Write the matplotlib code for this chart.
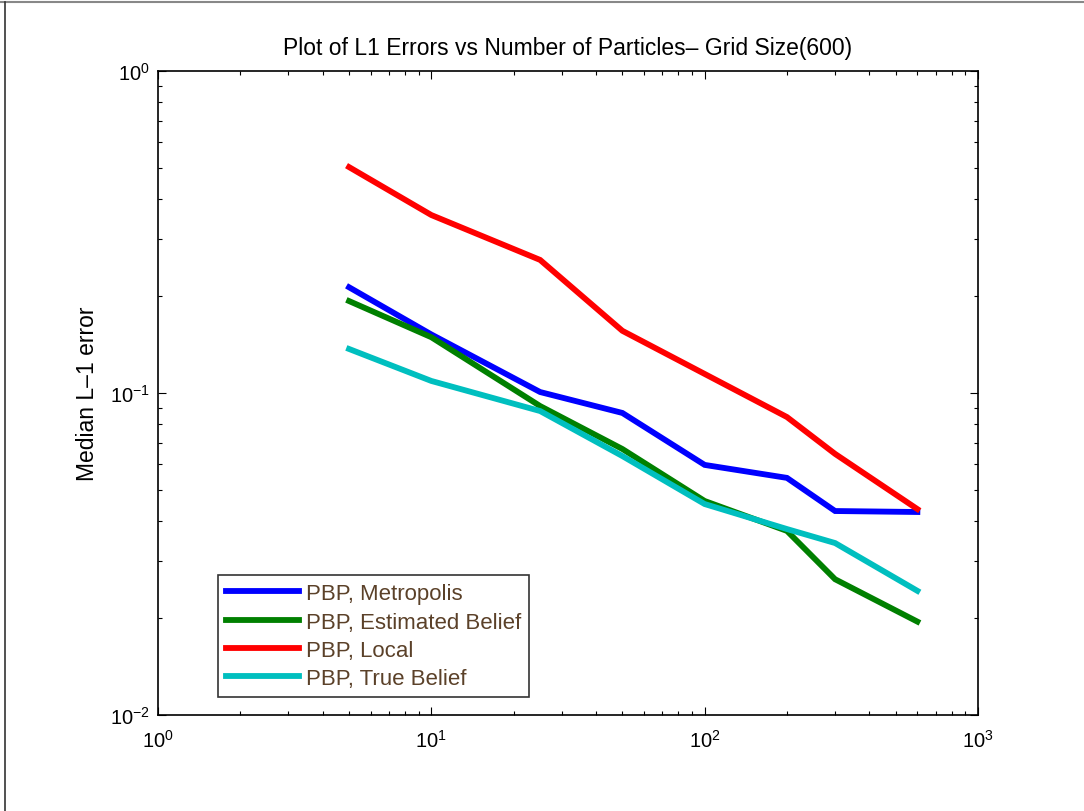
import matplotlib
matplotlib.use("Agg")
import matplotlib.pyplot as plt
from matplotlib.lines import Line2D
from matplotlib.ticker import LogLocator, NullFormatter

plt.rcParams["font.family"] = ["Liberation Sans", "DejaVu Sans"]
plt.rcParams["mathtext.fontset"] = "custom"
plt.rcParams["mathtext.rm"] = "Liberation Sans"
plt.rcParams["mathtext.it"] = "Liberation Sans"
plt.rcParams["mathtext.bf"] = "Liberation Sans"

# Number of particles
particles = [5, 10, 25, 50, 100, 200, 300, 600]

# Median L-1 error per method
err_metropolis = [0.213, 0.152, 0.1007, 0.0867, 0.0598, 0.0545, 0.0430, 0.0427]
err_estimated = [0.193, 0.149, 0.0911, 0.0670, 0.0462, 0.0373, 0.0264, 0.0195]
err_local = [0.503, 0.357, 0.259, 0.156, 0.1146, 0.0842, 0.0647, 0.0436]
err_true = [0.137, 0.109, 0.0879, 0.0637, 0.0452, 0.0378, 0.0342, 0.0243]

labels = ["PBP, Metropolis", "PBP, Estimated Belief", "PBP, Local", "PBP, True Belief"]
colors = ["#0000ff", "#008000", "#ff0000", "#00bfbf"]

W, H = 1084, 812
fig = plt.figure(figsize=(W / 100, H / 100), dpi=100)
ax = fig.add_axes([158 / W, 1 - 716 / H, 820 / W, 644 / H])

for ys, lab, c in zip([err_metropolis, err_estimated, err_local, err_true], labels, colors):
    ax.plot(particles, ys, color=c, lw=4.2, label=lab, solid_joinstyle="miter")

ax.set_xscale("log")
ax.set_yscale("log")
ax.set_xlim(1, 1000)
ax.set_ylim(0.01, 1)

ax.xaxis.set_major_locator(LogLocator(base=10, numticks=10))
ax.yaxis.set_major_locator(LogLocator(base=10, numticks=10))
ax.xaxis.set_minor_locator(LogLocator(base=10, subs=range(2, 10), numticks=20))
ax.yaxis.set_minor_locator(LogLocator(base=10, subs=range(2, 10), numticks=20))
ax.xaxis.set_minor_formatter(NullFormatter())
ax.yaxis.set_minor_formatter(NullFormatter())

ax.tick_params(which="both", direction="in", top=True, right=True, width=0.8, colors="black")
ax.tick_params(which="major", length=6, labelsize=14.5)
ax.tick_params(axis="x", which="major", pad=10)
ax.tick_params(axis="y", which="major", pad=6)
ax.tick_params(which="minor", length=3)
for s in ax.spines.values():
    s.set_linewidth(1.2)

ax.set_title("Plot of L1 Errors vs Number of Particles\u2013 Grid Size(600)", fontsize=16.5, pad=12)
ax.set_ylabel("Median L\u20131 error", fontsize=16.5, labelpad=8)

leg = ax.legend(loc="lower left", bbox_to_anchor=(0.073, 0.028), borderaxespad=0,
                fontsize=16, frameon=True, fancybox=False, handlelength=3.3,
                handletextpad=0.3, labelspacing=0.33, borderpad=0.35)
leg.get_frame().set_edgecolor("black")
leg.get_frame().set_linewidth(1.2)
for t in leg.get_texts():
    t.set_color("#5b4129")

# outer frame edges of the figure window
fig.add_artist(Line2D([0, 1], [1 - 3 / H, 1 - 3 / H], transform=fig.transFigure, color="#888888", lw=1.5))
fig.add_artist(Line2D([5 / W, 5 / W], [0, 1 - 3 / H], transform=fig.transFigure, color="#333333", lw=1.2))

fig.savefig("out.png", dpi=100)
